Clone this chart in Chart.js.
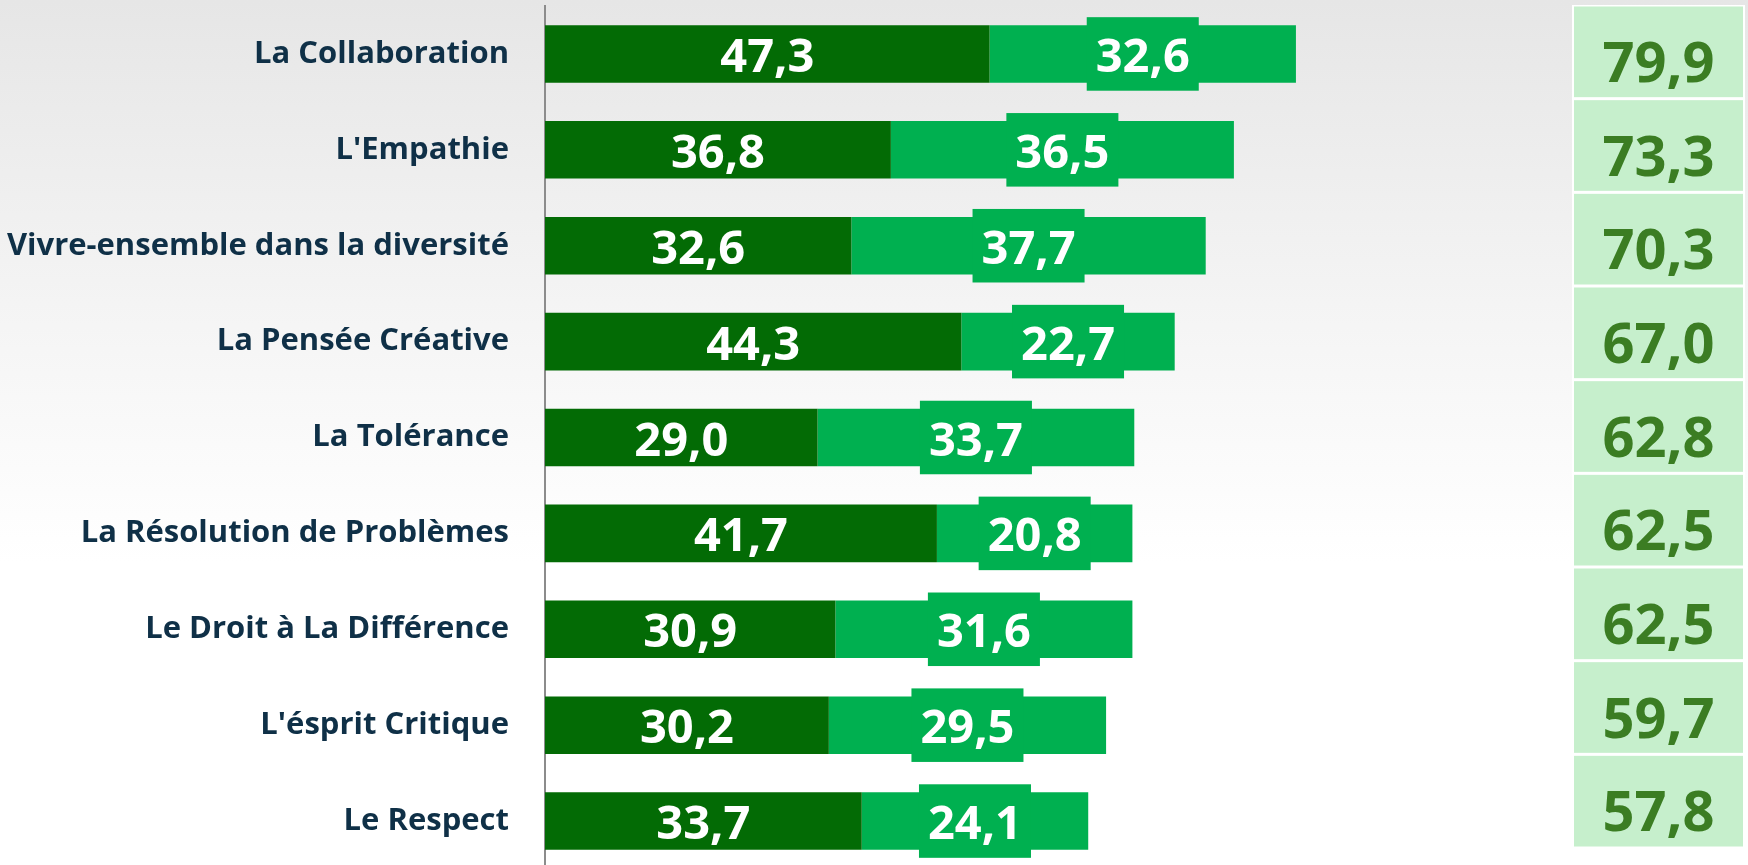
<!DOCTYPE html>
<html lang="fr">
<head>
    <meta charset="UTF-8">
    <meta name="viewport" content="width=device-width, initial-scale=1.0">
    <title>Compétences</title>
    <script src="https://cdn.jsdelivr.net/npm/chart.js"></script>
    <style>
        html, body {
            margin: 0;
            padding: 0;
            width: 1748px;
            height: 865px;
            overflow: hidden;
        }
        body {
            position: relative;
            background: linear-gradient(to bottom, #e6e6e6 0%, #f4f4f4 35%, #ffffff 65%);
        }
        #barChart {
            position: absolute;
            left: 0;
            top: 0;
        }
        #totalChart {
            position: absolute;
            left: 1572px;
            top: 5px;
        }
    </style>
</head>
<body>

<canvas id="barChart" width="1748" height="869"></canvas>
<canvas id="totalChart" width="173" height="843"></canvas>

<script>
    const categories = [
        'La Collaboration',
        "L'Empathie",
        'Vivre-ensemble dans la diversité',
        'La Pensée Créative',
        'La Tolérance',
        'La Résolution de Problèmes',
        'Le Droit à La Différence',
        "L'ésprit Critique",
        'Le Respect'
    ];
    const firstValues = [47.3, 36.8, 32.6, 44.3, 29.0, 41.7, 30.9, 30.2, 33.7];
    const secondValues = [32.6, 36.5, 37.7, 22.7, 33.7, 20.8, 31.6, 29.5, 24.1];
    const totals = [79.9, 73.3, 70.3, 67.0, 62.8, 62.5, 62.5, 59.7, 57.8];

    const fmt = v => v.toFixed(1).replace('.', ',');

    // value labels in the middle of each segment, the light one gets a box
    const segmentLabels = {
        id: 'segmentLabels',
        afterDatasetsDraw(chart) {
            const ctx = chart.ctx;
            ctx.save();
            ctx.font = 'bold 47px "Open Sans"';
            ctx.textAlign = 'center';
            ctx.textBaseline = 'alphabetic';
            chart.data.datasets.forEach((ds, di) => {
                chart.getDatasetMeta(di).data.forEach((bar, i) => {
                    const { x, base, y, height } = bar.getProps(['x', 'base', 'y', 'height'], true);
                    const cx = (x + base) / 2;
                    const text = fmt(ds.data[i]);
                    if (di === 1) {
                        const w = ctx.measureText(text).width + 18;
                        ctx.fillStyle = ds.backgroundColor;
                        ctx.fillRect(cx - w / 2, y - height / 2 - 8, w, height + 16);
                    }
                    ctx.fillStyle = '#ffffff';
                    ctx.fillText(text, cx, y + 18);
                });
            });
            ctx.restore();
        }
    };

    // one green cell per category with the total
    const totalCells = {
        id: 'totalCells',
        beforeDatasetsDraw(chart) {
            const { ctx, chartArea: a, scales: { y } } = chart;
            const band = (y.bottom - y.top) / chart.data.labels.length;
            ctx.save();
            ctx.fillStyle = '#ffffff';
            ctx.fillRect(a.left, a.top, a.right - a.left, a.bottom - a.top);
            ctx.font = 'bold 56px "Open Sans"';
            ctx.textAlign = 'center';
            chart.data.datasets[0].data.forEach((v, i) => {
                const cy = y.getPixelForValue(i);
                ctx.fillStyle = '#c6efcc';
                ctx.fillRect(a.left + 2, cy - band / 2 + 1.5, a.right - a.left - 4, band - 3);
                ctx.fillStyle = '#3b7d23';
                ctx.fillText(fmt(v), (a.left + a.right) / 2, cy + 30);
            });
            ctx.restore();
        }
    };

    new Chart(document.getElementById('barChart'), {
        type: 'bar',
        data: {
            labels: categories,
            datasets: [
                {
                    data: firstValues,
                    backgroundColor: '#036b05',
                    barPercentage: 0.6,
                    categoryPercentage: 1
                },
                {
                    data: secondValues,
                    backgroundColor: '#00b050',
                    barPercentage: 0.6,
                    categoryPercentage: 1
                }
            ]
        },
        options: {
            indexAxis: 'y',
            responsive: false,
            animation: false,
            layout: { padding: { top: 6 } },
            plugins: {
                legend: { display: false },
                tooltip: { enabled: false }
            },
            scales: {
                x: { stacked: true, display: false, min: 0, max: 128 },
                y: {
                    stacked: true,
                    afterFit: scale => {
                        scale.width = 545;
                        // no extra room above/below for the tick labels
                        scale.paddingTop = 0;
                        scale.paddingBottom = 0;
                    },
                    grid: { display: false, drawTicks: false },
                    border: { display: true, color: '#8c8c8c', width: 2 },
                    ticks: {
                        color: '#0f3047',
                        padding: 36,
                        font: { family: 'Open Sans', weight: 'bold', size: 31 }
                    }
                }
            }
        },
        plugins: [segmentLabels]
    });

    new Chart(document.getElementById('totalChart'), {
        type: 'bar',
        data: {
            labels: categories,
            datasets: [{ data: totals, backgroundColor: 'rgba(0,0,0,0)' }]
        },
        options: {
            indexAxis: 'y',
            responsive: false,
            animation: false,
            plugins: {
                legend: { display: false },
                tooltip: { enabled: false }
            },
            scales: {
                x: { display: false, min: 0 },
                y: { display: false }
            }
        },
        plugins: [totalCells]
    });
</script>

</body>
</html>
